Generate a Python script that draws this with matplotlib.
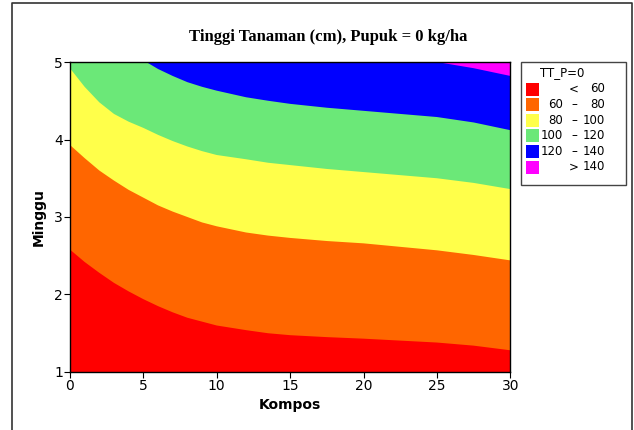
import matplotlib.pyplot as plt
from matplotlib.lines import Line2D
from matplotlib.patches import Rectangle

# contour boundaries: (Kompos, Minggu) where TT crosses each level
b60_k = [0, 1, 2, 3, 4, 5, 6, 7, 8, 9, 10, 12, 13.5, 15, 17.5, 20, 25, 27.5, 30]
b60_m = [2.58, 2.42, 2.28, 2.15, 2.04, 1.94, 1.85, 1.77, 1.70, 1.65, 1.60, 1.54, 1.50, 1.475,
         1.45, 1.43, 1.38, 1.34, 1.28]

b80_k = [0, 1, 2, 3, 4, 5, 6, 7, 8, 9, 10, 12, 13.5, 15, 17.5, 20, 25, 27.5, 30]
b80_m = [3.93, 3.76, 3.60, 3.47, 3.35, 3.25, 3.15, 3.07, 3.00, 2.93, 2.88, 2.80, 2.76, 2.73,
         2.69, 2.66, 2.57, 2.51, 2.44]

b100_k = [0, 1, 2, 3, 4, 5, 6, 7, 8, 9, 10, 12, 13.5, 15, 17.5, 20, 25, 27.5, 30]
b100_m = [4.92, 4.68, 4.48, 4.33, 4.23, 4.15, 4.06, 3.98, 3.91, 3.85, 3.80, 3.745, 3.70, 3.67,
          3.62, 3.58, 3.50, 3.44, 3.36]

b120_k = [5.2, 6, 7, 8, 9, 10, 12, 13.5, 15, 17.5, 20, 25, 27.5, 30]
b120_m = [5.0, 4.91, 4.82, 4.74, 4.68, 4.63, 4.545, 4.50, 4.46, 4.41, 4.37, 4.29, 4.22, 4.12]

b140_k = [25, 27.5, 30]
b140_m = [5.0, 4.92, 4.82]

band_labels = [('<', '', '60'), ('60', '\u2013', '80'), ('80', '\u2013', '100'),
               ('100', '\u2013', '120'), ('120', '\u2013', '140'), ('>', '', '140')]
colors = ['#FF0000', '#FF6600', '#FFFF4A', '#6BE878', '#0000FF', '#FF00FF']

fig = plt.figure(figsize=(6.34, 4.30), dpi=100)
ax = fig.add_axes([0.1103, 0.1349, 0.6947, 0.7209])

x_min, x_max, y_min, y_max = 0, 30, 1, 5

# top band first, then paint each lower band below its boundary
ax.fill([x_min, x_max, x_max, x_min], [y_min, y_min, y_max, y_max], color=colors[5], lw=0)
bounds = [(b140_k, b140_m), (b120_k, b120_m), (b100_k, b100_m), (b80_k, b80_m), (b60_k, b60_m)]
for i, (bk, bm) in enumerate(bounds):
    xs = list(bk)
    ys = list(bm)
    if xs[0] > x_min:
        xs = [x_min] + xs
        ys = [y_max] + ys
    xs = xs + [x_max, x_min]
    ys = ys + [y_min, y_min]
    ax.fill(xs, ys, color=colors[4 - i], lw=0)

ax.set_xlim(x_min, x_max)
ax.set_ylim(y_min, y_max)
ax.set_xticks([0, 5, 10, 15, 20, 25, 30])
ax.set_yticks([1, 2, 3, 4, 5])
ax.tick_params(direction='out', length=4, width=0.8, labelsize=10, pad=1)
for s in ax.spines.values():
    s.set_linewidth(1.0)
ax.set_xlabel('Kompos', fontweight='bold', fontsize=10, labelpad=4)
ax.set_ylabel('Minggu', fontweight='bold', fontsize=10, labelpad=6)

fig.text(0.517, 0.915, 'Tinggi Tanaman (cm), Pupuk = 0 kg/ha', ha='center', va='center',
         family='Liberation Serif', fontweight='bold', fontsize=12)

# legend box drawn by hand (Minitab style)
W, H = 634, 430
lx0, lx1, ly0, ly1 = 521, 626, 62, 185
fig.patches.append(Rectangle((lx0 / W, 1 - ly1 / H), (lx1 - lx0) / W, (ly1 - ly0) / H,
                             transform=fig.transFigure, fill=False, ec='#444444', lw=1.0))
fig.text(562 / W, 1 - 73 / H, 'TT_P=0', ha='center', va='center', fontsize=8.5)
for j, (a, d, b) in enumerate(band_labels):
    yc = 89 + j * 15.6
    fig.patches.append(Rectangle((526 / W, 1 - (yc + 6.5) / H), 13 / W, 13 / H,
                                 transform=fig.transFigure, color=colors[j], lw=0))
    if a in ('<', '>'):
        fig.text(574 / W, 1 - yc / H, a, ha='center', va='center', fontsize=8.5)
    else:
        fig.text(563 / W, 1 - yc / H, a, ha='right', va='center', fontsize=8.5)
        fig.text(574 / W, 1 - yc / H, d, ha='center', va='center', fontsize=8.5)
    fig.text(605 / W, 1 - yc / H, b, ha='right', va='center', fontsize=8.5)

# outer frame (left, top, right)
fig.lines.append(Line2D([12 / W, 12 / W, 632 / W, 632 / W], [0, 1 - 3 / H, 1 - 3 / H, 0],
                        transform=fig.transFigure, color='#333333', lw=1.2))

fig.savefig('out.png', dpi=100)
